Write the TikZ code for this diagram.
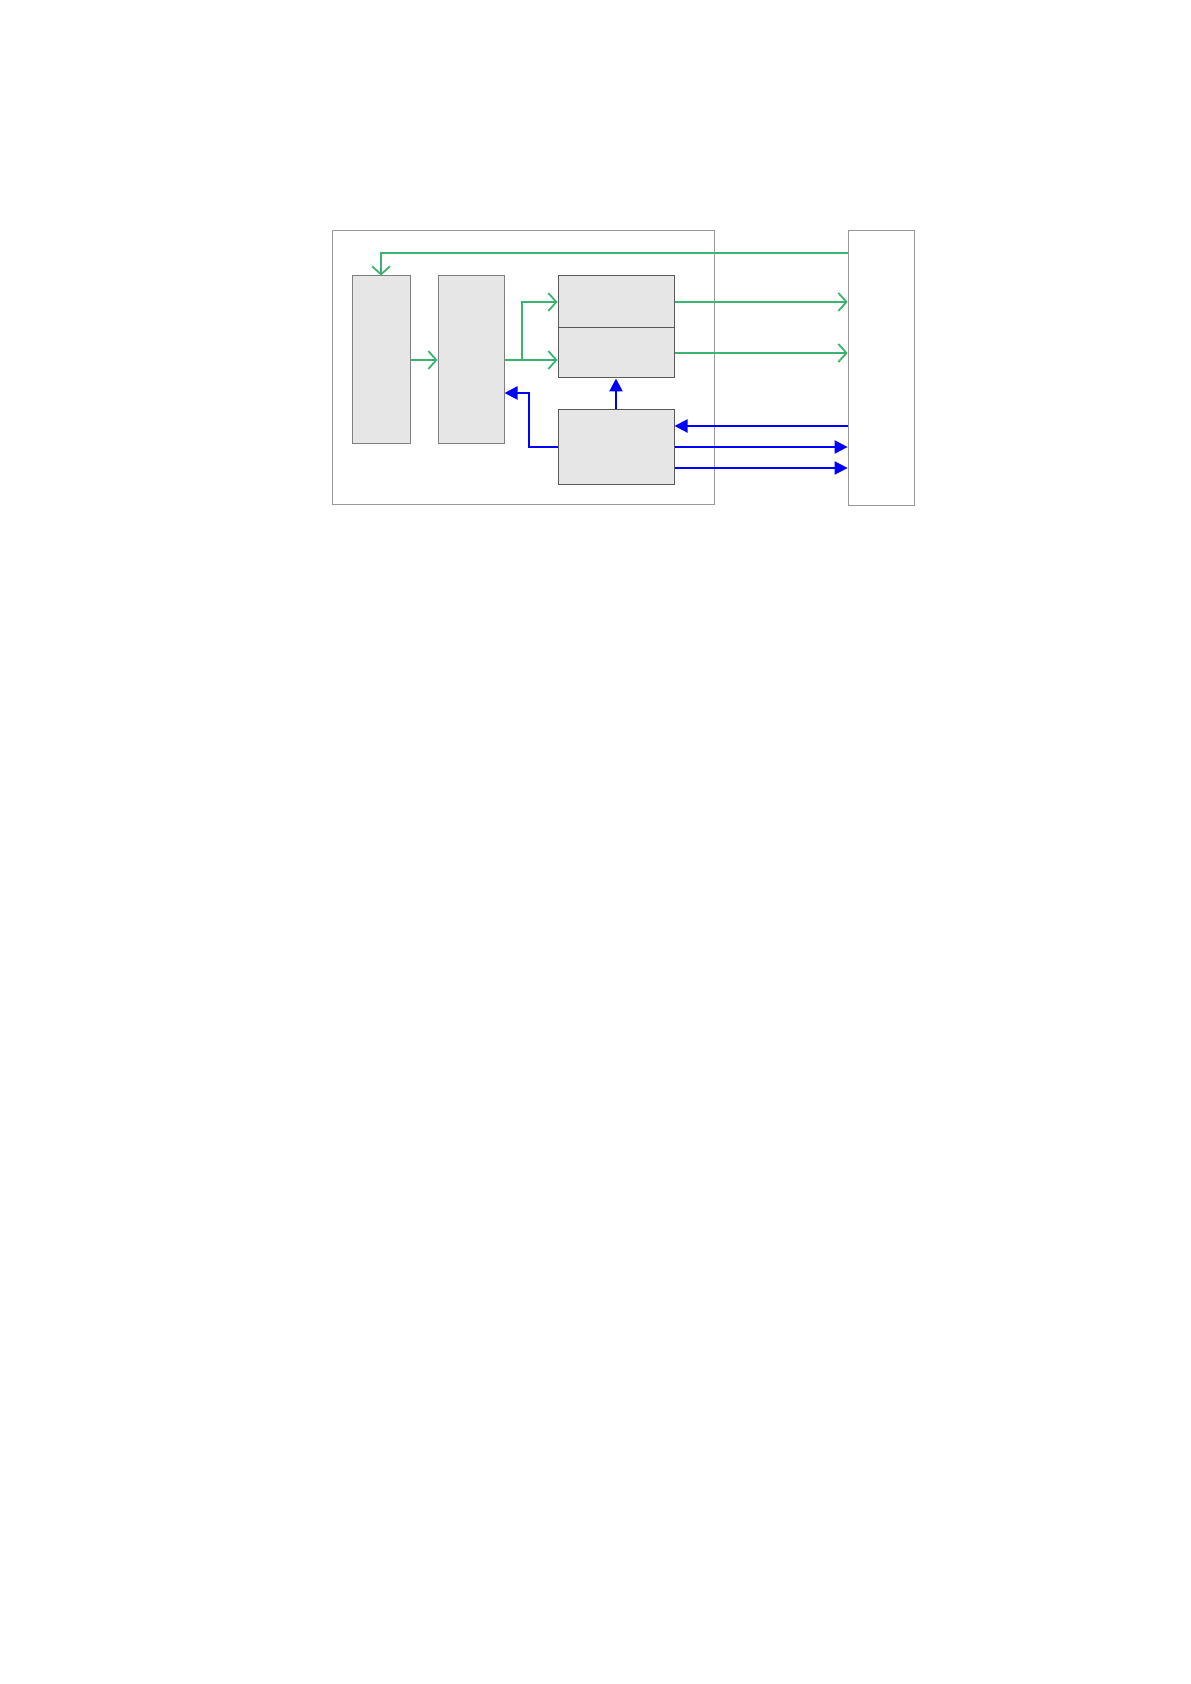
\documentclass[tikz,border=0pt]{standalone}
\usetikzlibrary{arrows.meta}
\definecolor{linkgreen}{RGB}{60,179,113}
\definecolor{boxgray}{RGB}{230,230,230}
\begin{document}
\begin{tikzpicture}
  [x=0.5pt,y=-0.5pt,
   blk/.style={draw=gray,fill=boxgray,line width=0.5pt,inner sep=0pt},
   frame/.style={draw=gray!80,line width=0.4pt,inner sep=0pt},
   gline/.style={draw=linkgreen,line width=0.9pt,-{Straight Barb[length=4pt,width=9pt]}},
   bline/.style={draw=blue,line width=1.1pt,-{Triangle[length=6.5pt,width=6.5pt]}}]
  \useasboundingbox (0,0) rectangle (1190,1684);

  \node[frame,minimum width=191pt,minimum height=137pt] (board) at (523,367) {};
  \node[frame,minimum width=33pt,minimum height=137.5pt] (host) at (881,367.5) {};

  \node[blk,minimum width=29pt,minimum height=84pt] (b1) at (381,360) {};
  \node[blk,minimum width=33pt,minimum height=84pt] (b2) at (471,360) {};
  \node[blk,draw=gray!130,minimum width=58pt,minimum height=26pt] (b3) at (616,302) {};
  \node[blk,draw=gray!130,minimum width=58pt,minimum height=25pt] (b4) at (616,353) {};
  \node[blk,draw=gray!130,minimum width=58pt,minimum height=37pt] (b5) at (616,447) {};

  \coordinate (fb) at (848,253);
  \coordinate (split) at (522,360);
  \coordinate (ret) at (529,447);

  \draw[gline] (fb) -| (b1.north);
  \draw[gline] (b1.east) -- (b2.west);
  \draw[gline,-] (b2.east) -- (split);
  \draw[gline] (split) |- (b3.west);
  \draw[gline] (split) -- (b4.west |- split);
  \foreach \from in {b3,b4}
    \draw[gline] (\from.east) -- (host.west |- \from.east);

  \draw[bline] (b5.north) -- (b4.south);
  \draw[bline] (b5.west) -- (ret) |- (b2.east |- 0,393);
  \draw[bline] (host.west |- 0,426) -- (b5.east |- 0,426);
  \foreach \y in {447,468}
    \draw[bline] (b5.east |- 0,\y) -- (host.west |- 0,\y);

\end{tikzpicture}
\end{document}
